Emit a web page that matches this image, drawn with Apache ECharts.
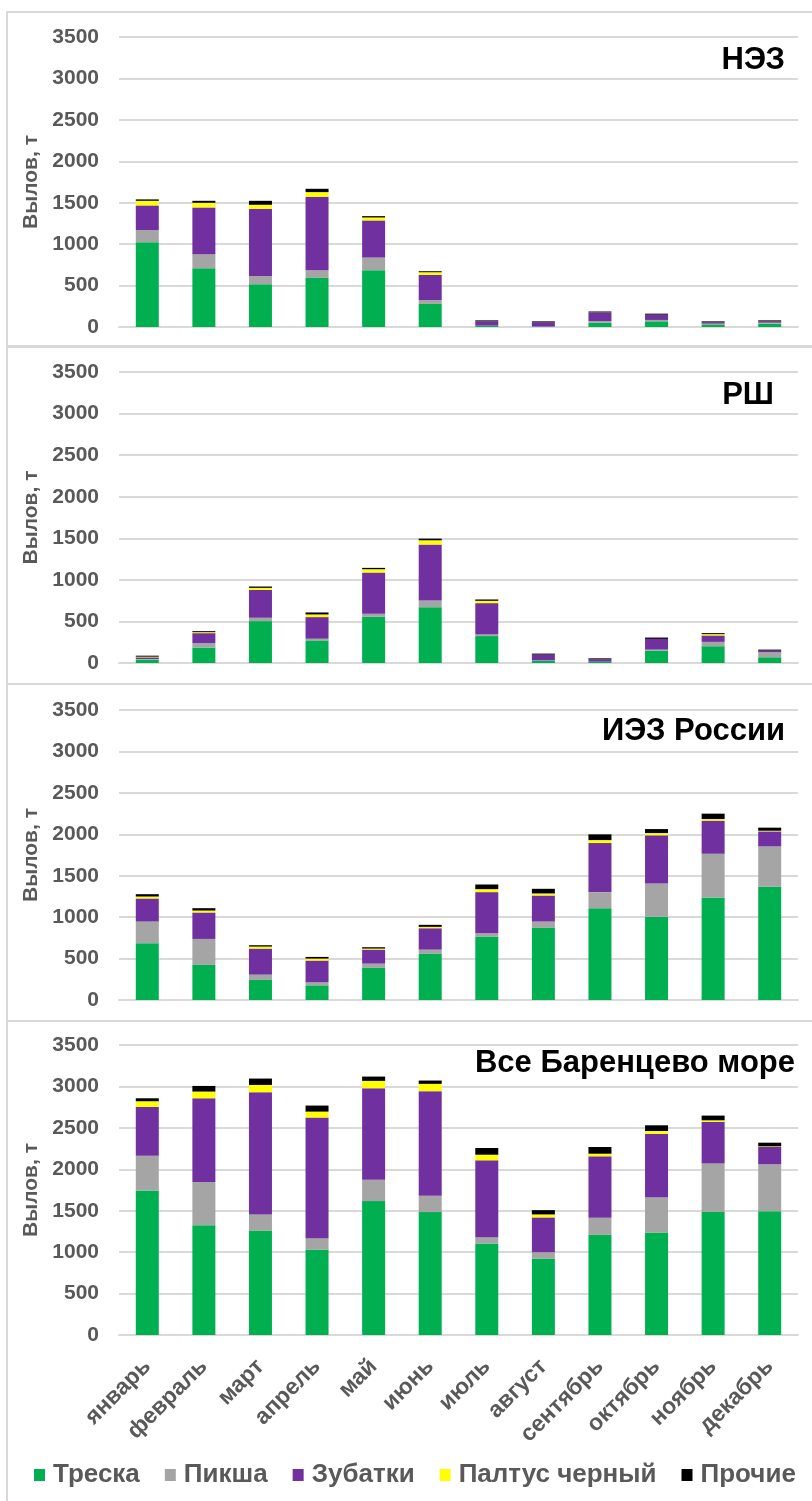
<!DOCTYPE html>
<html>
<head>
<meta charset="utf-8">
<script src="https://cdn.jsdelivr.net/npm/echarts@6/dist/echarts.min.js"></script>
<style>
html,body{margin:0;padding:0;background:#fff;}
#c{width:812px;height:1501px;}
</style>
</head>
<body>
<div id="c"></div>
<script>
// Categories and tick labels
const months = ['январь','февраль','март','апрель','май','июнь','июль','август','сентябрь','октябрь','ноябрь','декабрь'];
const speciesNames = ['Треска','Пикша','Зубатки','Палтус черный','Прочие'];
const panelTitles = ['НЭЗ','РШ','ИЭЗ России','Все Баренцево море'];
const yTicks = [0,500,1000,1500,2000,2500,3000,3500];

// НЭЗ
const nezCod     = [1024,709,516,592,685,278,12,4,50,69,24,40];
const nezHaddock = [145,170,101,93,153,48,4,2,20,16,16,12];
const nezWolf    = [298,564,810,887,448,303,52,50,103,64,16,16];
const nezHalibut = [56,56,48,56,36,32,0,0,2,0,0,0];
const nezOther   = [17,24,48,40,16,12,12,12,12,12,12,12];

// РШ
const rshCod     = [40,186,504,272,556,672,324,28,16,149,202,69];
const rshHaddock = [8,52,40,20,36,80,20,4,0,12,52,60];
const rshWolf    = [20,121,336,260,496,672,376,69,28,129,77,20];
const rshHalibut = [8,12,24,32,40,52,28,0,0,0,16,0];
const rshOther   = [12,12,16,24,16,20,16,12,12,16,12,12];

// ИЭЗ России
const iezCod     = [685,423,242,177,387,556,766,870,1108,1003,1237,1366];
const iezHaddock = [262,314,64,37,52,52,40,77,194,403,528,488];
const iezWolf    = [278,319,314,262,169,258,496,314,592,581,400,181];
const iezHalibut = [24,24,25,24,13,17,36,25,36,28,19,8];
const iezOther   = [28,28,16,20,16,24,56,56,69,48,65,37];

// Все Баренцево море
const allCod     = [1745,1326,1261,1028,1616,1483,1104,923,1209,1237,1483,1495];
const allHaddock = [419,520,194,141,258,198,77,76,206,427,588,564];
const allWolf    = [589,1011,1475,1455,1104,1261,927,420,741,762,500,210];
const allHalibut = [68,81,88,72,89,89,68,36,32,36,20,8];
const allOther   = [36,68,77,73,52,40,81,52,81,69,57,44];

const panels = [
  [nezCod,nezHaddock,nezWolf,nezHalibut,nezOther],
  [rshCod,rshHaddock,rshWolf,rshHalibut,rshOther],
  [iezCod,iezHaddock,iezWolf,iezHalibut,iezOther],
  [allCod,allHaddock,allWolf,allHalibut,allOther]
];

const colors = ['#00B050','#A5A5A5','#7030A0','#FFFF00','#000000'];
const FONT = '"Liberation Sans", Arial, sans-serif';
const grey = '#595959';

const gridPos = [
  {top:37, bottom:1174},
  {top:372, bottom:838},
  {top:710, bottom:501},
  {top:1045, bottom:166}
];
const titlePos = [
  {right:27, top:45},
  {right:38, top:380},
  {right:27, top:716},
  {right:17, top:1048}
];
const frames = [
  [7,12,820,334],
  [7,347,820,337],
  [7,684,820,337],
  [7,1021,820,490]
];

const grids=[], xAxes=[], yAxes=[], series=[], titles=[];
panels.forEach((p,i)=>{
  grids.push({left:119, right:14, top:gridPos[i].top, bottom:gridPos[i].bottom, containLabel:false});
  xAxes.push({
    type:'category', gridIndex:i, data:months,
    axisLine:{show:true, lineStyle:{color:'#D9D9D9', width:2}},
    axisTick:{show:false},
    axisLabel:{show:i===3, rotate:45, interval:0, margin:28, color:grey, fontFamily:FONT, fontSize:23, fontWeight:'bold'}
  });
  yAxes.push({
    type:'value', gridIndex:i, min:yTicks[0], max:yTicks[yTicks.length-1], interval:500,
    name:'Вылов, т', nameLocation:'middle', nameGap:67,
    nameTextStyle:{color:grey, fontFamily:FONT, fontSize:21, fontWeight:'bold'},
    axisLine:{show:false}, axisTick:{show:false},
    axisLabel:{color:grey, fontFamily:FONT, fontSize:21, fontWeight:'bold', margin:20, formatter:v=>String(v)},
    splitLine:{lineStyle:{color:'#D9D9D9', width:2}}
  });
  titles.push({
    text:panelTitles[i], right:titlePos[i].right, top:titlePos[i].top, padding:0,
    textStyle:{color:'#000', fontFamily:FONT, fontSize:31, fontWeight:'bold'}
  });
  p.forEach((vals,k)=>{
    series.push({
      type:'bar', name:speciesNames[k], xAxisIndex:i, yAxisIndex:i, stack:'s'+i,
      data:vals, barWidth:23, itemStyle:{color:colors[k]}, silent:true, animation:false
    });
  });
});

const chart = echarts.init(document.getElementById('c'), null, {renderer:'canvas'});
chart.setOption({
  animation:false,
  backgroundColor:'#fff',
  title:titles,
  grid:grids, xAxis:xAxes, yAxis:yAxes, series:series,
  legend:{
    data:speciesNames, left:29, top:1457, width:800, itemWidth:11, itemHeight:12, itemGap:25,
    icon:'rect',
    textStyle:{color:grey, fontFamily:FONT, fontSize:26, fontWeight:'bold', padding:[0,0,0,3]}
  },
  graphic: frames.map(f=>({
    type:'rect', shape:{x:f[0], y:f[1], width:f[2], height:f[3]},
    style:{fill:'none', stroke:'#D9D9D9', lineWidth:2}, silent:true, z:-1
  }))
});
</script>
</body>
</html>
